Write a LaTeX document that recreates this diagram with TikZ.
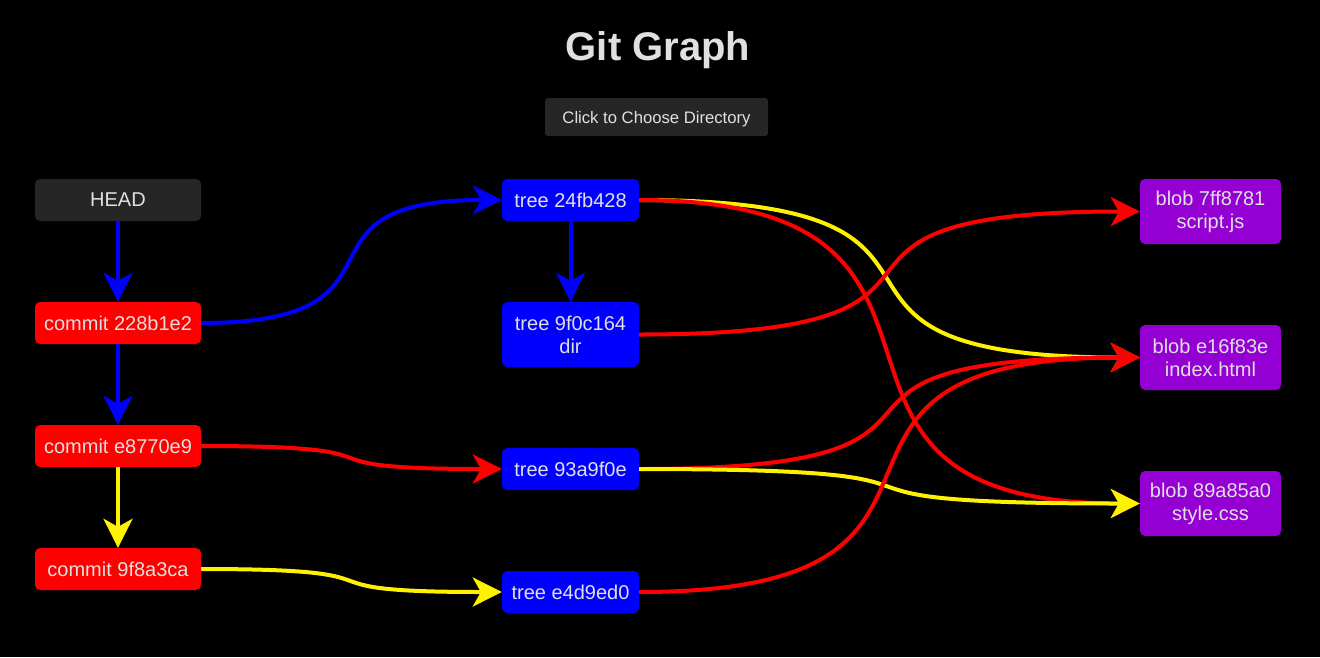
\documentclass[tikz,border=0pt]{standalone}
\usepackage{fontspec}
\setmainfont{Liberation Sans}
\usetikzlibrary{arrows.meta}
\definecolor{lightfg}{RGB}{224,224,224}
\definecolor{panel}{RGB}{38,38,38}
\definecolor{blobviolet}{RGB}{148,0,211}

\begin{document}
\begin{tikzpicture}
[
	x=1pt, y=-1pt,
	box/.style={rectangle,rounded corners=5pt,inner sep=0pt,text=lightfg,align=center,font=\fontsize{20}{23}\selectfont},
	commitbox/.style={box,fill=red,minimum width=166pt,minimum height=42pt},
	treebox/.style={box,fill=blue,minimum width=137pt,minimum height=42pt},
	blobbox/.style={box,fill=blobviolet,minimum width=141pt,minimum height=65pt},
	link/.style={line width=4pt,-{Stealth[length=29pt,width=29pt,inset=8pt]}},
	ctlink/.style={to path={.. controls +(226,0) and +(-226,0) .. (\tikztotarget)}},
	tblink/.style={to path={.. controls +(392,0) and +(-392,0) .. (\tikztotarget)}}
]

	% page
	\fill[black] (0,0) rectangle (1320,657);
	\useasboundingbox (0,0) rectangle (1320,657);

	% header
	\node[text=lightfg,text depth=0pt,font=\fontsize{40}{48}\selectfont\bfseries] (title) at (658,46) {Git Graph};
	\node[box,fill=panel,rounded corners=3pt,text depth=0pt,minimum width=223pt,minimum height=38pt,font=\fontsize{16.67}{20}\selectfont] (choose) at (656.5,117) {Click to Choose Directory};

	% commits
	\node[box,fill=panel,minimum width=166pt,minimum height=42pt] (head) at (118,200) {HEAD};
	\node[commitbox] (c1) at (118,323) {commit 228b1e2};
	\node[commitbox] (c2) at (118,446) {commit e8770e9};
	\node[commitbox] (c3) at (118,569) {commit 9f8a3ca};

	% trees
	\node[treebox] (t1) at (570.5,200) {tree 24fb428};
	\node[treebox,minimum height=65pt] (t2) at (570.5,334.5) {tree 9f0c164\\dir};
	\node[treebox] (t3) at (570.5,469) {tree 93a9f0e};
	\node[treebox] (t4) at (570.5,592) {tree e4d9ed0};

	% blobs
	\node[blobbox] (b1) at (1210.5,211.5) {blob 7ff8781\\script.js};
	\node[blobbox] (b2) at (1210.5,357.5) {blob e16f83e\\index.html};
	\node[blobbox] (b3) at (1210.5,503.5) {blob 89a85a0\\style.css};

	% parent chain
	\draw[link,blue] (head) -- (c1);
	\draw[link,blue] (c1) -- (c2);
	\draw[link,yellow] (c2) -- (c3);
	\draw[link,blue] (t1) -- (t2);

	% commits to trees
	\draw[link,blue,ctlink] (c1.east) to (t1.west);
	\draw[link,red,ctlink] (c2.east) to (t3.west);
	\draw[link,yellow,ctlink] (c3.east) to (t4.west);

	% trees to blobs
	\draw[link,yellow,tblink] (t1.east) to (b2.west);
	\draw[link,red,tblink] (t1.east) to (b3.west);
	\draw[link,red,tblink] (t2.east) to (b1.west);
	\draw[link,red,tblink] (t3.east) to (b2.west);
	\draw[link,yellow,tblink] (t3.east) to (b3.west);
	\draw[link,red,tblink] (t4.east) to (b2.west);

\end{tikzpicture}
\end{document}
